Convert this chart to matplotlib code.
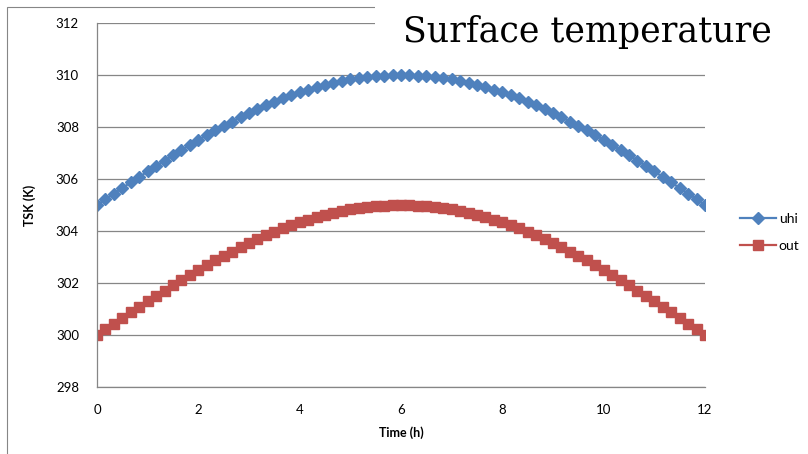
import matplotlib
matplotlib.use("Agg")
import matplotlib.pyplot as plt
from matplotlib.patches import Rectangle

# time in minutes, every 10 min over 12 h
mins = [0, 10, 20, 30, 40, 50, 60, 70, 80, 90, 100, 110, 120, 130, 140, 150, 160, 170,
	180, 190, 200, 210, 220, 230, 240, 250, 260, 270, 280, 290, 300, 310, 320, 330, 340, 350,
	360, 370, 380, 390, 400, 410, 420, 430, 440, 450, 460, 470, 480, 490, 500, 510, 520, 530,
	540, 550, 560, 570, 580, 590, 600, 610, 620, 630, 640, 650, 660, 670, 680, 690, 700, 710, 720]

uhi = [305.00, 305.22, 305.44, 305.65, 305.87, 306.08, 306.29, 306.50, 306.71, 306.91,
	307.11, 307.31, 307.50, 307.69, 307.87, 308.04, 308.21, 308.38, 308.54, 308.69,
	308.83, 308.97, 309.10, 309.22, 309.33, 309.44, 309.53, 309.62, 309.70, 309.77,
	309.83, 309.88, 309.92, 309.96, 309.98, 310.00, 310.00, 310.00, 309.98, 309.96,
	309.92, 309.88, 309.83, 309.77, 309.70, 309.62, 309.53, 309.44, 309.33, 309.22,
	309.10, 308.97, 308.83, 308.69, 308.54, 308.38, 308.21, 308.04, 307.87, 307.69,
	307.50, 307.31, 307.11, 306.91, 306.71, 306.50, 306.29, 306.08, 305.87, 305.65,
	305.44, 305.22, 305.00]

out = [300.00, 300.22, 300.44, 300.65, 300.87, 301.08, 301.29, 301.50, 301.71, 301.91,
	302.11, 302.31, 302.50, 302.69, 302.87, 303.04, 303.21, 303.38, 303.54, 303.69,
	303.83, 303.97, 304.10, 304.22, 304.33, 304.44, 304.53, 304.62, 304.70, 304.77,
	304.83, 304.88, 304.92, 304.96, 304.98, 305.00, 305.00, 305.00, 304.98, 304.96,
	304.92, 304.88, 304.83, 304.77, 304.70, 304.62, 304.53, 304.44, 304.33, 304.22,
	304.10, 303.97, 303.83, 303.69, 303.54, 303.38, 303.21, 303.04, 302.87, 302.69,
	302.50, 302.31, 302.11, 301.91, 301.71, 301.50, 301.29, 301.08, 300.87, 300.65,
	300.44, 300.22, 300.00]

xt = [0, 2, 4, 6, 8, 10, 12]
yt = [298, 300, 302, 304, 306, 308, 310, 312]

blue = "#4f81bd"
red = "#c0504d"
gc = "#868686"

plt.rcParams["font.family"] = ["Lato", "DejaVu Sans"]

W, H = 808, 454
fig = plt.figure(figsize=(W/100, H/100), dpi=100)

# outer chart frame (cropped at right and bottom)
fig.patches.append(Rectangle((7/W, -0.1), 1.2, 1 - 7/H + 0.1, transform=fig.transFigure,
	fill=False, edgecolor=gc, linewidth=0.8, zorder=0))

ax = fig.add_axes([97/W, 1 - 387/H, (705-97)/W, (387-23)/H])
hrs = [m/60 for m in mins]
ax.plot(hrs, uhi, color=blue, marker="D", markersize=6.3, linewidth=1.6, label="uhi")
ax.plot(hrs, out, color=red, marker="s", markersize=7.8, linewidth=1.6, label="out")

ax.set_xlim(0, 12)
ax.set_ylim(298, 312)
ax.set_xticks(xt)
ax.set_yticks(yt)
ax.tick_params(length=0, labelsize=9.5, colors="black")
ax.tick_params(axis="y", pad=13)
ax.tick_params(axis="x", pad=12)
ax.grid(axis="y", color=gc, linewidth=0.9)
ax.set_axisbelow(True)
for s in ["top", "right"]:
	ax.spines[s].set_visible(False)
for s in ["left", "bottom"]:
	ax.spines[s].set_color(gc)
	ax.spines[s].set_linewidth(0.9)
ax.set_xlabel("Time (h)", fontsize=9, fontweight="bold", labelpad=8)
ax.set_ylabel("TSK (K)", fontsize=9, fontweight="bold", labelpad=14)

fig.legend(loc="upper left", bbox_to_anchor=(733/W, 1 - 206/H), frameon=False,
	fontsize=10, handlelength=2.6, handletextpad=0.2, labelspacing=1.05, borderpad=0)

# white title box sitting over the plot corner
fig.patches.append(Rectangle((375/W, 1 - 62/H), 1, 62/H, transform=fig.transFigure,
	facecolor="white", edgecolor="none", zorder=5))
fig.text(403/W, 1 - 42/H, "Surface temperature", fontsize=25, family="DejaVu Serif",
	ha="left", va="baseline", zorder=10)

fig.savefig("out.png", dpi=100)
